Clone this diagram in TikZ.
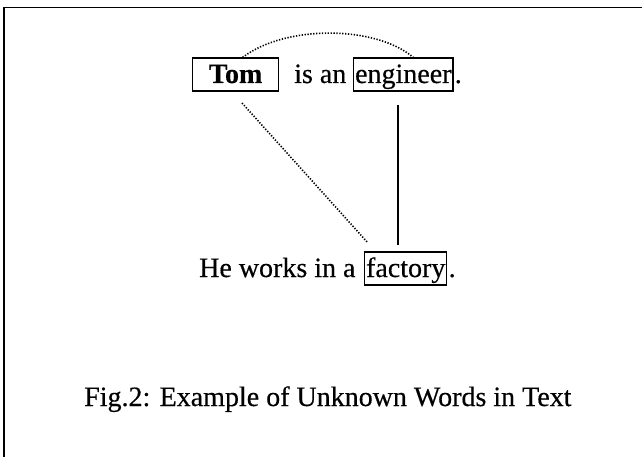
\documentclass[tikz,border=0pt]{standalone}
\usepackage{fontspec}
\setmainfont{Liberation Serif}[FakeBold=0.4]
\begin{document}
\begin{tikzpicture}[x=1pt,y=-1pt,
  every node/.style={font=\fontsize{28}{30}\selectfont, inner sep=0pt},
  word/.style={anchor=base west},
  wordbox/.style={draw, line width=1.2pt, anchor=base west, text height=23pt, text depth=6pt, inner ysep=2pt, inner xsep=1.5pt},
  dotline/.style={line width=1.6pt, dash pattern=on 1.3pt off 1.6pt},
  solidline/.style={line width=1.6pt}]
\useasboundingbox (0,0) rectangle (642,457);
% frame (open on the right and bottom)
\draw[line width=1.4pt] (4,457) -- (4,7.5) -- (642,7.5);

% first sentence
\node[wordbox, minimum width=86pt, font=\fontsize{28}{30}\selectfont\bfseries] (tom) at (192,83) {Tom};
\node[word] (isan) at (294,83) {is an};
\node[wordbox] (eng) at (353,83) {engineer};
\node[word] (dot1) at ([xshift=1pt]eng.base east) {.};

% second sentence
\node[word] (he) at (199,277) {He works in a};
\node[wordbox] (fac) at (364,277) {factory};
\node[word] (dot2) at ([xshift=1pt]fac.base east) {.};

% caption
\node[word] (cap) at (84,406) {Fig.2: Example of Unknown Words in Text};

% links
\coordinate (a1) at ([xshift=7pt]tom.north);
\coordinate (a2) at ([xshift=10pt]eng.north);
\draw[dotline] (a1) .. controls (285,25) and (375,25) .. (a2);

\coordinate (d1) at (242,103);
\coordinate (d2) at (368,243);
\draw[dotline] (d1) -- (d2);

\coordinate (v1) at (398,105);
\coordinate (v2) at (398,245);
\draw[solidline] (v1) -- (v2);
\end{tikzpicture}
\end{document}
